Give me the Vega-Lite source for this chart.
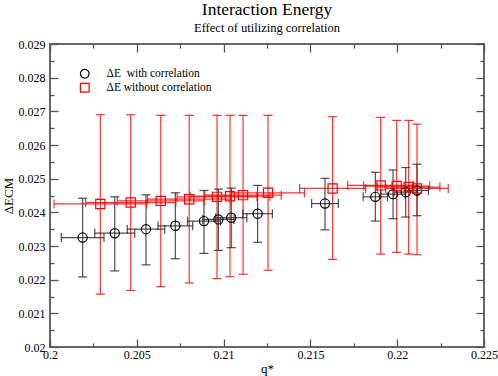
{
  "$schema": "https://vega.github.io/schema/vega-lite/v6.json",
  "width": 434,
  "height": 303,
  "autosize": {"type": "none"},
  "padding": {"left": 50, "top": 44, "right": 14, "bottom": 29},
  "title": {
    "text": "Interaction Energy",
    "subtitle": "Effect of utilizing correlation",
    "font": "Liberation Serif",
    "fontSize": 17.5,
    "fontWeight": "normal",
    "subtitleFont": "Liberation Serif",
    "subtitleFontSize": 12.5,
    "subtitleColor": "black",
    "subtitlePadding": 3,
    "color": "black",
    "anchor": "middle",
    "offset": 4
  },
  "config": {
    "view": {"stroke": "#666", "strokeWidth": 2},
    "axis": {
      "domain": false,
      "grid": false,
      "labelFont": "Liberation Serif",
      "labelFontSize": 12,
      "labelColor": "black",
      "titleFont": "Liberation Serif",
      "titleFontSize": 13,
      "titleFontWeight": "normal",
      "titleColor": "black",
      "tickColor": "#555",
      "tickWidth": 1.3
    }
  },
  "data": {
    "values": [
      {"s": "ΔE  with correlation", "q": 0.20188, "qlo": 0.20065, "qhi": 0.20311, "e": 0.02325, "elo": 0.02208, "ehi": 0.02442},
      {"s": "ΔE  with correlation", "q": 0.20373, "qlo": 0.20258, "qhi": 0.20488, "e": 0.02338, "elo": 0.02226, "ehi": 0.02446},
      {"s": "ΔE  with correlation", "q": 0.20553, "qlo": 0.20445, "qhi": 0.20661, "e": 0.0235, "elo": 0.02244, "ehi": 0.02452},
      {"s": "ΔE  with correlation", "q": 0.20722, "qlo": 0.20622, "qhi": 0.20822, "e": 0.0236, "elo": 0.02262, "ehi": 0.02458},
      {"s": "ΔE  with correlation", "q": 0.20887, "qlo": 0.20792, "qhi": 0.20982, "e": 0.02374, "elo": 0.02278, "ehi": 0.02465},
      {"s": "ΔE  with correlation", "q": 0.2097, "qlo": 0.2088, "qhi": 0.2106, "e": 0.02379, "elo": 0.02287, "ehi": 0.02469},
      {"s": "ΔE  with correlation", "q": 0.21044, "qlo": 0.20954, "qhi": 0.21134, "e": 0.02384, "elo": 0.02295, "ehi": 0.02472},
      {"s": "ΔE  with correlation", "q": 0.21196, "qlo": 0.21111, "qhi": 0.21281, "e": 0.02396, "elo": 0.02311, "ehi": 0.0248},
      {"s": "ΔE  with correlation", "q": 0.21584, "qlo": 0.21507, "qhi": 0.21661, "e": 0.02426, "elo": 0.02348, "ehi": 0.02501},
      {"s": "ΔE  with correlation", "q": 0.21874, "qlo": 0.21804, "qhi": 0.21944, "e": 0.02446, "elo": 0.02374, "ehi": 0.02519},
      {"s": "ΔE  with correlation", "q": 0.21976, "qlo": 0.21906, "qhi": 0.22046, "e": 0.02454, "elo": 0.02381, "ehi": 0.02526},
      {"s": "ΔE  with correlation", "q": 0.22049, "qlo": 0.21981, "qhi": 0.22117, "e": 0.0246, "elo": 0.02386, "ehi": 0.02533},
      {"s": "ΔE  with correlation", "q": 0.22114, "qlo": 0.22048, "qhi": 0.2218, "e": 0.02465, "elo": 0.0239, "ehi": 0.02543},
      {"s": "ΔE without correlation", "q": 0.2029, "qlo": 0.20023, "qhi": 0.20557, "e": 0.02425, "elo": 0.02157, "ehi": 0.0269},
      {"s": "ΔE without correlation", "q": 0.20465, "qlo": 0.20205, "qhi": 0.20725, "e": 0.02429, "elo": 0.02168, "ehi": 0.0269},
      {"s": "ΔE without correlation", "q": 0.20638, "qlo": 0.20388, "qhi": 0.20888, "e": 0.02434, "elo": 0.02179, "ehi": 0.02688},
      {"s": "ΔE without correlation", "q": 0.20802, "qlo": 0.20562, "qhi": 0.21042, "e": 0.02439, "elo": 0.0219, "ehi": 0.02688},
      {"s": "ΔE without correlation", "q": 0.20962, "qlo": 0.20732, "qhi": 0.21192, "e": 0.02446, "elo": 0.02203, "ehi": 0.02688},
      {"s": "ΔE without correlation", "q": 0.21037, "qlo": 0.20807, "qhi": 0.21267, "e": 0.02448, "elo": 0.02209, "ehi": 0.02688},
      {"s": "ΔE without correlation", "q": 0.21112, "qlo": 0.20892, "qhi": 0.21332, "e": 0.02451, "elo": 0.02216, "ehi": 0.02688},
      {"s": "ΔE without correlation", "q": 0.21256, "qlo": 0.21046, "qhi": 0.21466, "e": 0.02458, "elo": 0.02228, "ehi": 0.02688},
      {"s": "ΔE without correlation", "q": 0.21628, "qlo": 0.21438, "qhi": 0.21818, "e": 0.02471, "elo": 0.0226, "ehi": 0.02684},
      {"s": "ΔE without correlation", "q": 0.21905, "qlo": 0.21715, "qhi": 0.22095, "e": 0.0248, "elo": 0.02276, "ehi": 0.02682},
      {"s": "ΔE without correlation", "q": 0.21997, "qlo": 0.21807, "qhi": 0.22187, "e": 0.02478, "elo": 0.02281, "ehi": 0.02673},
      {"s": "ΔE without correlation", "q": 0.22066, "qlo": 0.21886, "qhi": 0.22246, "e": 0.02475, "elo": 0.02276, "ehi": 0.02673},
      {"s": "ΔE without correlation", "q": 0.22114, "qlo": 0.21934, "qhi": 0.22294, "e": 0.02471, "elo": 0.02274, "ehi": 0.02662}
    ]
  },
  "resolve": {"axis": {"x": "independent", "y": "independent"}},
  "layer": [
    {
      "mark": {"type": "rule", "strokeWidth": 1.2, "opacity": 0.8},
      "encoding": {
        "x": {
          "field": "q", "type": "quantitative",
          "scale": {"domain": [0.2, 0.225], "nice": false, "zero": false},
          "title": "q*",
          "axis": {
            "orient": "bottom",
            "values": [0.2, 0.2025, 0.205, 0.2075, 0.21, 0.2125, 0.215, 0.2175, 0.22, 0.2225, 0.225],
            "labelExpr": "(round(datum.value*10000) % 50 == 0) ? format(datum.value, '.3~f') : ''",
            "tickSize": {"condition": {"test": "round(datum.value*10000) % 50 == 0", "value": -8}, "value": -4},
            "labelPadding": 10,
            "labelFlush": false,
            "titlePadding": 2
          }
        },
        "y": {
          "field": "elo", "type": "quantitative",
          "scale": {"domain": [0.02, 0.029], "nice": false, "zero": false},
          "title": "ΔECM",
          "axis": {
            "orient": "left",
            "values": [0.02, 0.0205, 0.021, 0.0215, 0.022, 0.0225, 0.023, 0.0235, 0.024, 0.0245, 0.025, 0.0255, 0.026, 0.0265, 0.027, 0.0275, 0.028, 0.0285, 0.029],
            "labelExpr": "(round(datum.value*10000) % 10 == 0) ? format(datum.value, '.3~f') : ''",
            "tickSize": {"condition": {"test": "round(datum.value*10000) % 10 == 0", "value": -8}, "value": -4},
            "labelPadding": 13,
            "labelFlush": false,
            "titlePadding": 3
          }
        },
        "y2": {"field": "ehi"},
        "color": {"condition": {"test": "datum.s === 'ΔE  with correlation'", "value": "#222"}, "value": "#ff0000"}
      }
    },
    {
      "mark": {"type": "rule", "strokeWidth": 1.2, "opacity": 0.8},
      "encoding": {
        "x": {"field": "qlo", "type": "quantitative", "axis": {"orient": "top", "values": [0.2, 0.2025, 0.205, 0.2075, 0.21, 0.2125, 0.215, 0.2175, 0.22, 0.2225, 0.225], "labels": false, "title": null, "tickSize": {"condition": {"test": "round(datum.value*10000) % 50 == 0", "value": -8}, "value": -4}}},
        "x2": {"field": "qhi"},
        "y": {"field": "e", "type": "quantitative", "axis": {"orient": "right", "values": [0.02, 0.0205, 0.021, 0.0215, 0.022, 0.0225, 0.023, 0.0235, 0.024, 0.0245, 0.025, 0.0255, 0.026, 0.0265, 0.027, 0.0275, 0.028, 0.0285, 0.029], "labels": false, "title": null, "tickSize": {"condition": {"test": "round(datum.value*10000) % 10 == 0", "value": -8}, "value": -4}}},
        "color": {"condition": {"test": "datum.s === 'ΔE  with correlation'", "value": "#222"}, "value": "#ff0000"}
      }
    },
    {
      "mark": {"type": "tick", "orient": "horizontal", "size": 9, "thickness": 1.2, "opacity": 0.8},
      "encoding": {
        "x": {"field": "q", "type": "quantitative", "axis": null},
        "y": {"field": "ehi", "type": "quantitative", "axis": null},
        "color": {"condition": {"test": "datum.s === 'ΔE  with correlation'", "value": "#222"}, "value": "#ff0000"}
      }
    },
    {
      "mark": {"type": "tick", "orient": "horizontal", "size": 9, "thickness": 1.2, "opacity": 0.8},
      "encoding": {
        "x": {"field": "q", "type": "quantitative", "axis": null},
        "y": {"field": "elo", "type": "quantitative", "axis": null},
        "color": {"condition": {"test": "datum.s === 'ΔE  with correlation'", "value": "#222"}, "value": "#ff0000"}
      }
    },
    {
      "mark": {"type": "tick", "orient": "vertical", "size": 9, "thickness": 1.2, "opacity": 0.8},
      "encoding": {
        "x": {"field": "qlo", "type": "quantitative", "axis": null},
        "y": {"field": "e", "type": "quantitative", "axis": null},
        "color": {"condition": {"test": "datum.s === 'ΔE  with correlation'", "value": "#222"}, "value": "#ff0000"}
      }
    },
    {
      "mark": {"type": "tick", "orient": "vertical", "size": 9, "thickness": 1.2, "opacity": 0.8},
      "encoding": {
        "x": {"field": "qhi", "type": "quantitative", "axis": null},
        "y": {"field": "e", "type": "quantitative", "axis": null},
        "color": {"condition": {"test": "datum.s === 'ΔE  with correlation'", "value": "#222"}, "value": "#ff0000"}
      }
    },
    {
      "mark": {"type": "point", "filled": false, "strokeWidth": 1.2, "size": 85, "opacity": 1},
      "encoding": {
        "x": {"field": "q", "type": "quantitative", "axis": null},
        "y": {"field": "e", "type": "quantitative", "axis": null},
        "color": {
          "field": "s", "type": "nominal",
          "scale": {"domain": ["ΔE  with correlation", "ΔE without correlation"], "range": ["black", "#ff0000"]},
          "legend": {
            "title": null,
            "orient": "none",
            "legendX": 29,
            "legendY": 24,
            "labelFont": "Liberation Serif",
            "labelFontSize": 11.5,
            "labelColor": "black",
            "rowPadding": 0,
            "symbolSize": 75,
            "labelOffset": 16,
            "symbolStrokeWidth": 1.2,
            "labelExpr": "replace(datum.label, '  ', '\u00a0\u00a0')"
          }
        },
        "shape": {
          "field": "s", "type": "nominal",
          "scale": {"domain": ["ΔE  with correlation", "ΔE without correlation"], "range": ["circle", "square"]}
        }
      }
    }
  ]
}
